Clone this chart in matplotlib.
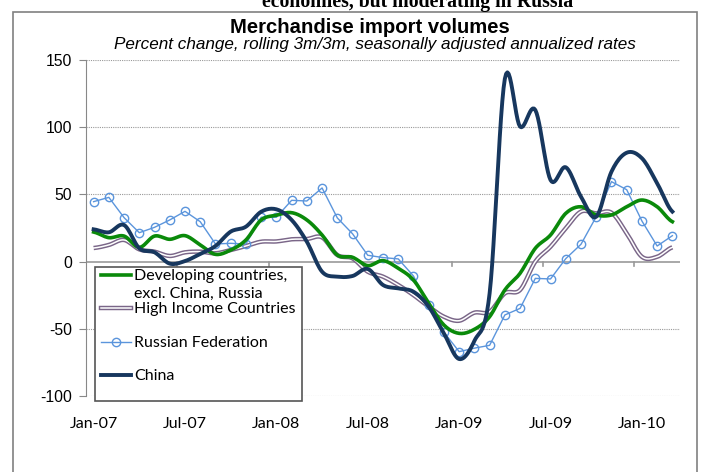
import numpy as np
import pandas as pd
import matplotlib
matplotlib.use("Agg")
import matplotlib.pyplot as plt
from matplotlib.patches import Rectangle
from matplotlib.lines import Line2D

# Monthly data, Jan-07 .. Mar-10
months = pd.date_range("2007-01-01", "2010-03-01", freq="MS")
developing = [22, 17.8, 19, 10.6, 19, 16.6, 19.3, 12.4, 5.4, 8.6, 16.1, 31, 34.5,
              36.4, 31, 19.8, 4.9, 3.2, -3, 0.7, -5, -13.7, -31, -47.2, -53.4, -50.4,
              -41, -21.1, -8.7, 9.9, 19.8, 35.9, 40.8, 34.7, 34.7, 40.8, 45.8, 40.8, 29.7]
high_income = [10.1, 12.4, 16.1, 9.1, 7.4, 4.2, 6.9, 7.4, 6.2, 8.6, 11.6, 14.8, 15,
               16.6, 16.8, 18, 4.9, 2.4, -7.5, -11.2, -17.4, -24.9, -33.5, -41, -44, -38,
               -37.3, -23.6, -21.1, 0, 11.1, 24.8, 37.2, 35.9, 36.4, 21.1, 3.6, 3.6, 10.6]
russia = [44.6, 47.8, 32.7, 21.5, 25.5, 31, 37.4, 29.7, 13.1, 13.6, 13.1, 33, 33,
          45.6, 45.1, 54.8, 32.5, 20.7, 4.7, 3, 2, -10.7, -32.3, -52.6, -67, -64.4,
          -62.3, -39.7, -34.8, -12.5, -12.9, 2.2, 12.9, 33.4, 59.5, 53.5, 30.2, 11.6, 19.3]
china = [24, 21.8, 27.2, 9.9, 6.9, -1.5, 0.4, 5.7, 11.6, 22.3, 26, 37.1, 38.9,
         31, 14.8, -7.5, -11.2, -10.7, -5.5, -17.4, -19.9, -22.4, -33.5, -53.4, -72.5, -59,
         -23.6, 136, 100.4, 112.8, 60.7, 70.2, 48.3, 33.4, 66.9, 81, 76.9, 58.3, 37.2]

tick_labels = [m.strftime("%b-%y") for m in months]
yticks = [-100, -50, 0, 50, 100, 150]

label_font = ["Lato", "DejaVu Sans"]
num_font = ["Liberation Sans", "DejaVu Sans"]


def smooth(y, n=12):
    # Excel-style smoothed line (Catmull-Rom through the points)
    y = np.asarray(y, float)
    p = np.concatenate([[y[0]], y, [y[-1]]])
    xs, ys = [], []
    for i in range(len(y) - 1):
        t = np.linspace(0, 1, n, endpoint=False)
        p0, p1, p2, p3 = p[i], p[i + 1], p[i + 2], p[i + 3]
        ys.append(0.5 * (2 * p1 + (-p0 + p2) * t + (2 * p0 - 5 * p1 + 4 * p2 - p3) * t ** 2
                         + (-p0 + 3 * p1 - 3 * p2 + p3) * t ** 3))
        xs.append(i + t)
    xs.append([len(y) - 1])
    ys.append([y[-1]])
    return np.concatenate(xs), np.concatenate(ys)


fig = plt.figure(figsize=(7.02, 4.72), dpi=100)
ax = fig.add_axes([86 / 702, 1 - 396 / 472, 594 / 702, 336 / 472])

x = np.arange(len(months))
purple = "#7a6688"
blue = "#5b95dc"
green = "#0a8a0a"
navy = "#17375e"

hx, hy = smooth(high_income)
ax.plot(hx, hy, color=purple, lw=3.2, solid_capstyle="butt", zorder=3)
ax.plot(hx, hy, color="white", lw=1.1, zorder=3.1)
ax.plot(x, russia, color=blue, lw=1.0, marker="o", ms=6, mfc="none", mec=blue, mew=1.0, zorder=4)
gx, gy = smooth(developing)
ax.plot(gx, gy, color=green, lw=2.6, zorder=5)
cx, cy = smooth(china)
ax.plot(cx, cy, color=navy, lw=2.8, zorder=6)

ax.set_xlim(-0.5, len(months) - 0.5)
ax.set_ylim(-100, 150)
for s in ["top", "right", "bottom"]:
    ax.spines[s].set_visible(False)
ax.spines["left"].set_color("#888888")
ax.set_yticks(yticks)
ax.set_yticklabels([str(v) for v in yticks], fontfamily=num_font, fontsize=11.3)
ax.tick_params(axis="y", length=5, color="#888888", pad=5)
for v in yticks:
    if v != 0:
        ax.axhline(v, color="#999999", lw=0.8, ls=(0, (1, 1)), zorder=1)
ax.axhline(0, color="#999999", lw=1.2, zorder=2)
for b in np.arange(-0.5, len(months), 6):
    ax.plot([b, b], [0, -3], color="#999999", lw=1.2, zorder=2)

ax.set_xticks(x[::6])
ax.set_xticklabels(tick_labels[::6], fontfamily=label_font, fontsize=11.5)
ax.tick_params(axis="x", length=0, pad=15)

# Legend box
fig.patches.append(Rectangle((95 / 702, 1 - 401 / 472), 207 / 702, 134 / 472,
                             transform=fig.transFigure, fill=True, fc="white",
                             ec="#555555", lw=1.2, zorder=10))
entries = [(275, "Developing countries,\nexcl. China, Russia", "dev"),
           (308, "High Income Countries", "hi"),
           (342, "Russian Federation", "ru"),
           (375, "China", "cn")]
for yy, lab, key in entries:
    fy = 1 - yy / 472
    xs = [101 / 702, 131 / 702]
    if key == "dev":
        fig.add_artist(Line2D(xs, [fy, fy], color=green, lw=2.6, zorder=11))
    elif key == "hi":
        fig.add_artist(Line2D(xs, [fy, fy], color=purple, lw=3.2, zorder=11))
        fig.add_artist(Line2D(xs, [fy, fy], color="white", lw=1.1, zorder=12))
    elif key == "ru":
        fig.add_artist(Line2D(xs, [fy, fy], color=blue, lw=1.0, zorder=11))
        fig.add_artist(Line2D([116 / 702], [fy], color=blue, marker="o", ms=6,
                              mfc="none", mew=1.0, zorder=12))
    else:
        fig.add_artist(Line2D(xs, [fy, fy], color=navy, lw=2.8, zorder=11))
    fig.text(134 / 702, fy + 6 / 472, lab, fontfamily=label_font, fontsize=11.5,
             va="top", ha="left", linespacing=1.35, zorder=13)

# Outer frame
fig.patches.append(Rectangle((13 / 702, -0.05), 684 / 702, 1.05 - 12 / 472,
                             transform=fig.transFigure, fill=False, ec="#808080", lw=1.2))

fig.text(418 / 702, 1 - 7 / 472, "economies, but moderating in Russia",
         fontfamily=["Liberation Serif", "DejaVu Serif"], fontweight="bold",
         fontsize=14.2, ha="center", va="baseline")
fig.text(370 / 702, 1 - 33 / 472, "Merchandise import volumes",
         fontfamily=num_font, fontweight="bold", fontsize=14.6, ha="center", va="baseline")
fig.text(375 / 702, 1 - 49 / 472,
         "Percent change, rolling 3m/3m, seasonally adjusted annualized rates",
         fontfamily=num_font, style="italic", fontsize=12.3, ha="center", va="baseline")

fig.savefig("out.png", dpi=100)
